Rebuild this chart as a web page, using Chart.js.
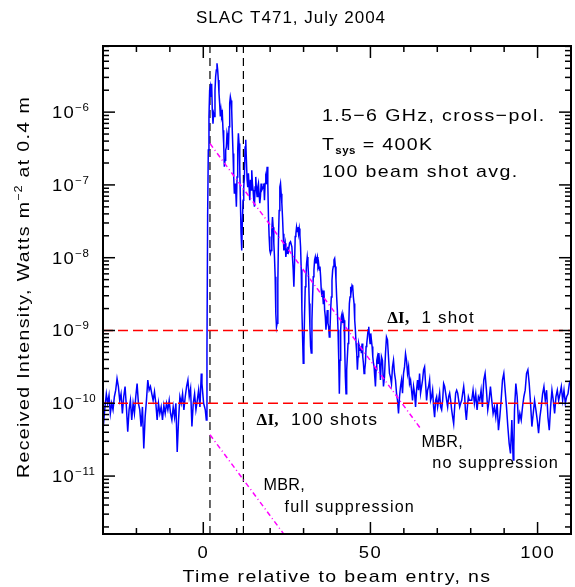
<!DOCTYPE html>
<html>
<head>
<meta charset="utf-8">
<title>SLAC T471, July 2004</title>
<script src="https://cdn.jsdelivr.net/npm/chart.js@4.4.1/dist/chart.umd.min.js"></script>
<style>
  html, body { margin: 0; padding: 0; background: #fff; }
  #wrap { width: 575px; height: 587px; }
</style>
</head>
<body>
<div id="wrap"><canvas id="chart" width="575" height="587"></canvas></div>
<script>
// time axis (ns) and log10 of received intensity
const timeNs = [
  -30.0,-29.5,-29.0,-28.6,-28.2,-27.8,-27.4,-27.0,-26.6,-26.2,
  -25.8,-25.4,-25.0,-24.6,-24.2,-23.8,-23.4,-23.0,-22.6,-22.2,
  -21.8,-21.4,-21.0,-20.6,-20.2,-19.8,-19.4,-19.0,-18.6,-18.2,
  -17.8,-17.4,-17.0,-16.6,-16.2,-15.8,-15.4,-15.0,-14.6,-14.2,
  -13.8,-13.4,-13.0,-12.6,-12.2,-11.8,-11.4,-11.0,-10.6,-10.2,
  -9.8,-9.4,-9.0,-8.6,-8.2,-7.8,-7.4,-7.0,-6.6,-6.2,
  -5.8,-5.4,-5.0,-4.6,-4.2,-3.8,-3.4,-3.0,-2.6,-2.2,
  -1.8,-1.4,-1.0,-0.6,
  -0.4,0.1,0.6,0.9,1.1,1.3,1.5,1.7,1.9,2.1,
  2.3,2.5,2.7,2.9,3.1,3.3,3.5,3.7,3.9,4.1,
  4.3,4.5,4.7,4.9,5.1,5.3,5.5,5.7,5.9,6.1,
  6.3,6.5,6.7,6.9,7.1,7.3,7.5,7.7,7.9,8.1,
  8.3,8.5,8.7,8.9,9.1,9.3,9.5,9.7,9.9,10.1,
  10.3,10.5,10.7,10.9,11.1,11.3,11.5,11.7,11.9,12.1,
  12.3,12.5,12.7,12.9,13.1,13.3,13.5,13.7,13.9,14.1,
  14.3,14.5,14.7,14.9,15.1,15.3,15.5,15.7,15.9,16.1,
  16.3,16.5,16.7,16.9,17.1,17.3,17.5,17.9,18.1,18.3,
  18.5,18.7,18.9,19.1,19.3,19.5,19.7,19.9,20.1,20.3,
  20.5,20.7,20.9,21.1,21.3,21.5,21.7,21.9,22.1,22.3,
  22.5,22.7,22.9,23.1,23.3,23.5,23.7,23.9,24.1,24.3,
  24.5,24.7,24.9,25.1,25.3,25.5,25.8,
  26.1,26.5,26.9,27.1,27.3,27.5,27.7,27.9,28.1,28.3,
  28.5,28.7,28.9,29.1,29.3,29.5,29.7,29.9,30.1,30.3,
  30.5,30.7,30.9,31.1,31.3,31.5,31.7,31.9,32.1,32.3,
  32.5,32.7,32.9,33.1,33.3,33.5,33.7,33.9,34.1,34.3,
  34.5,34.7,34.9,35.1,35.3,35.5,35.7,35.9,36.1,36.3,
  36.5,36.7,36.9,37.1,37.3,37.5,37.7,37.9,38.1,38.3,
  38.5,38.7,38.9,39.1,39.3,39.5,39.7,39.9,40.1,40.3,
  40.5,40.7,40.9,41.1,41.3,41.5,41.7,41.9,42.1,42.3,
  42.5,42.7,42.9,43.1,43.3,43.5,43.7,43.9,44.1,44.3,
  44.5,44.7,44.9,45.1,45.3,45.5,45.7,45.9,46.1,46.3,
  46.5,46.7,46.9,47.1,47.3,47.5,47.7,47.9,48.1,48.3,
  48.5,48.7,48.9,49.1,49.3,49.5,49.7,49.9,50.1,50.3,
  50.5,50.7,50.9,51.1,51.3,51.5,51.7,51.9,52.1,52.3,
  52.5,52.7,
  53.0,53.3,53.6,53.9,54.2,54.5,54.8,55.1,55.4,55.7,
  56.0,56.3,56.6,56.9,57.2,57.5,57.8,58.1,58.4,58.7,
  59.0,59.3,59.6,59.9,60.2,60.5,60.8,61.1,61.4,61.7,
  62.0,62.3,62.6,62.9,63.2,63.5,63.8,64.1,64.4,64.7,
  65.0,65.3,65.6,65.9,66.2,66.5,66.8,67.1,67.4,67.7,
  68.0,68.3,68.6,68.9,69.2,69.5,69.8,70.1,70.4,70.7,
  71.0,71.3,71.6,71.9,72.2,72.5,72.8,73.1,73.4,73.7,
  74.0,74.3,74.6,74.9,75.2,75.5,75.8,76.1,76.4,76.7,
  77.0,77.3,77.6,77.9,78.2,78.4,78.7,79.0,79.3,79.6,
  80.3,80.7,81.1,81.5,81.9,82.3,82.7,83.1,83.5,83.9,
  84.3,84.7,85.1,85.5,85.9,86.3,86.7,87.1,87.5,87.9,
  88.3,88.7,89.1,89.5,89.9,90.3,90.7,91.1,91.5,91.9,
  92.3,92.7,92.9,93.1,93.5,93.9,94.3,94.7,95.1,95.5,
  95.9,96.3,96.7,97.1,97.5,97.9,98.3,98.7,99.1,99.5,
  99.9,100.3,100.7,101.1,101.5,101.9,102.3,102.7,103.1,103.5,
  103.9,104.3,104.7,105.1,105.5,105.9,106.3,106.7,107.1,107.5,
  107.9,108.3,108.7,109.1,109.5,109.9
];
const log10Intensity = [
  -10.37,-10.09,-9.87,-10.00,-9.89,-10.14,-10.00,-10.09,-9.91,-9.82,
  -9.66,-9.77,-9.96,-9.87,-10.14,-9.91,-9.77,-10.05,-10.39,-10.09,
  -9.96,-10.23,-10.00,-10.14,-9.91,-9.73,-10.00,-10.09,-10.32,-10.05,
  -10.62,-10.19,-9.96,-9.68,-9.82,-9.77,-9.87,-9.96,-9.84,-10.00,
  -10.23,-10.00,-10.14,-10.05,-10.23,-10.03,-10.14,-10.00,-10.09,-9.96,
  -10.14,-10.23,-10.05,-10.19,-10.00,-10.67,-10.23,-9.91,-10.00,-9.87,
  -10.09,-9.91,-9.77,-9.68,-9.91,-9.80,-10.32,-10.00,-9.87,-10.09,
  -9.96,-9.82,-10.05,-9.59,
  -9.73,-10.00,-10.09,-10.23,-9.27,-7.44,-6.52,-6.06,-5.70,-5.65,
  -5.79,-5.61,-5.97,-6.16,-6.02,-6.06,-5.70,-5.51,-5.42,-5.33,
  -5.42,-5.56,-5.74,-5.88,-6.06,-5.97,-6.06,-6.02,-6.25,-6.43,
  -6.75,-6.66,-6.52,-6.48,-6.29,-6.34,-6.52,-6.20,-5.88,-5.79,
  -5.84,-5.97,-6.29,-6.57,-6.89,-7.12,-6.98,-7.07,-7.30,-6.89,
  -6.52,-6.29,-6.43,-6.75,-7.21,-7.67,-7.90,-7.48,-7.21,-7.03,
  -6.89,-6.48,-6.38,-6.66,-6.93,-7.03,-6.84,-7.03,-7.21,-6.93,
  -7.07,-6.80,-6.98,-7.07,-7.21,-7.30,-7.03,-6.89,-7.07,-7.16,
  -7.03,-6.98,-7.12,-7.25,-7.16,-6.98,-7.07,-7.03,-6.98,-7.21,
  -6.98,-6.89,-6.93,-6.75,-6.98,-7.44,-7.71,-7.90,-7.94,-7.90,
  -7.62,-7.44,-7.58,-7.80,-7.99,-8.26,-8.77,-8.95,-8.90,-8.35,
  -7.71,-7.35,-7.03,-6.98,-7.12,-7.25,-7.44,-7.67,-7.90,-7.85,
  -7.80,-7.99,-7.90,-7.94,-7.85,-7.90,-7.80,
  -7.78,-7.85,-8.17,-8.40,-8.08,-7.71,-7.67,-7.58,-7.64,-7.58,
  -7.67,-7.60,-7.69,-7.85,-8.17,-8.72,-9.09,-9.45,-9.22,-8.77,
  -8.40,-8.26,-8.08,-7.99,-8.08,-8.26,-8.63,-8.95,-9.22,-9.31,
  -8.86,-8.54,-8.26,-8.17,-8.03,-7.99,-8.08,-8.03,-7.99,-8.12,
  -8.08,-8.17,-8.12,-8.26,-8.45,-8.54,-8.49,-8.63,-8.45,-8.72,
  -8.81,-8.99,-8.86,-8.72,-8.90,-8.95,-9.09,-8.99,-8.72,-8.54,
  -8.31,-8.17,-8.12,-8.03,-8.01,-8.12,-8.31,-8.54,-8.72,-8.99,
  -9.36,-9.87,-9.41,-8.99,-8.81,-8.77,-8.90,-8.81,-8.86,-9.22,
  -9.64,-9.87,-9.54,-9.36,-9.18,-8.95,-8.63,-8.54,-8.40,-8.45,
  -8.38,-8.40,-8.54,-8.63,-8.86,-8.99,-9.18,-9.31,-9.54,-9.36,
  -9.18,-9.22,-9.27,-9.22,-9.31,-9.18,-9.36,-9.45,-9.59,-9.54,
  -9.45,-9.22,-9.18,-9.09,-8.99,-8.95,-9.09,-9.18,-9.04,-9.13,
  -9.22,-9.36,-9.45,-9.50,-9.64,-9.77,-9.54,-9.41,-9.36,-9.45,
  -9.31,-9.41,
  -9.68,-9.36,-9.41,-9.77,-9.64,-9.32,-9.09,-9.13,-9.36,-9.59,
  -9.64,-9.73,-9.50,-9.41,-9.59,-9.68,-9.86,-9.96,-10.14,-9.91,
  -9.77,-9.68,-9.86,-9.59,-9.50,-9.32,-9.41,-9.59,-9.50,-9.73,
  -9.68,-9.82,-9.96,-9.77,-9.86,-10.05,-9.82,-9.68,-9.82,-9.59,
  -9.86,-9.77,-9.68,-9.54,-9.50,-9.73,-9.96,-9.82,-9.77,-9.68,
  -9.96,-9.91,-9.82,-10.05,-10.19,-9.96,-9.91,-10.05,-9.96,-9.86,
  -10.05,-10.09,-9.96,-9.73,-9.77,-9.86,-9.96,-10.05,-9.91,-9.86,
  -9.96,-10.09,-10.19,-10.28,-10.05,-9.86,-9.82,-9.86,-9.96,-10.05,
  -10.00,-9.96,-9.86,-9.77,-9.91,-10.09,-10.23,-10.05,-9.91,-9.96,
  -9.96,-9.82,-10.00,-9.87,-10.09,-9.91,-9.96,-9.82,-10.05,-9.68,
  -9.59,-9.82,-10.09,-9.96,-9.77,-9.96,-10.14,-10.05,-10.19,-10.00,
  -10.37,-10.19,-9.96,-9.68,-9.59,-9.82,-10.05,-10.32,-10.55,-10.69,
  -10.23,-10.78,-10.60,-10.09,-9.73,-9.91,-10.28,-10.14,-10.23,-10.05,
  -9.91,-9.82,-9.59,-9.54,-9.73,-10.00,-10.32,-10.14,-9.96,-10.09,
  -10.23,-10.41,-10.19,-10.05,-9.87,-9.77,-9.96,-9.82,-10.19,-10.37,
  -10.05,-9.82,-9.96,-10.14,-9.91,-9.82,-9.96,-9.87,-9.77,-9.96,
  -9.82,-10.00,-9.91,-9.87,-9.73,-9.68
];

// noise levels (1 shot, 100 shots) and beam window markers
const noiseLevels = [1e-9, 1e-10];
const beamWindowNs = [2, 12];

// MBR expectation, no suppression and full suppression
const mbrTimeNs = [2, 65];
const mbrNoSuppression = [3.7e-7, 4.5e-11];
const mbrFullTimeNs = [2, 25];
const mbrFullSuppression = [3.7e-11, 1.4e-12];

// axes
const X_MIN = -30, X_MAX = 110;
const Y_MIN = 1.6e-12, Y_MAX = 8.1e-6;
const xTicks = [-20, -10, 0, 10, 20, 30, 40, 50, 60, 70, 80, 90, 100];
const xTickLabels = [0, 50, 100];
const yDecades = [-11, -10, -9, -8, -7, -6];

const SANS = "'Liberation Sans', Arial, sans-serif";
const SERIF = "'Liberation Serif', 'Times New Roman', serif";
const SX = 1.15;   // the original lettering is wider than Arial
const LS = 1.2;

function fontOf(p) {
  return (p.bold ? 'bold ' : '') + p.size + 'px ' + (p.serif ? SERIF : SANS);
}

function drawParts(ctx, parts, x, y, align) {
  let w = 0;
  parts.forEach(function(p) {
    ctx.font = fontOf(p);
    ctx.letterSpacing = (p.ls !== undefined ? p.ls : LS) + 'px';
    p._sx = p.sx !== undefined ? p.sx : SX;
    p._w = ctx.measureText(p.text).width * p._sx;
    w += p._w;
  });
  let cx = align === 'center' ? x - w / 2 : (align === 'right' ? x - w : x);
  ctx.textAlign = 'left';
  ctx.textBaseline = 'alphabetic';
  ctx.fillStyle = '#000';
  parts.forEach(function(p) {
    ctx.font = fontOf(p);
    ctx.letterSpacing = (p.ls !== undefined ? p.ls : LS) + 'px';
    ctx.save();
    ctx.translate(cx, y + (p.dy || 0));
    ctx.scale(p._sx, 1);
    ctx.fillText(p.text, 0, 0);
    ctx.restore();
    cx += p._w;
  });
}

// text notes placed at (time ns, log10 intensity) of their left baseline
const notes = [
  { t: 35.5, v: -6.12, parts: [{ text: '1.5−6 GHz, cross−pol.', size: 17 }] },
  { t: 35.5, v: -6.52, parts: [{ text: 'T', size: 17 }, { text: 'sys', size: 10, bold: true, dy: 4, ls: 0.4 }, { text: ' = 400K', size: 17 }] },
  { t: 35.5, v: -6.89, parts: [{ text: '100 beam shot avg.', size: 17 }] },
  { t: 55.0, v: -8.90, parts: [{ text: 'ΔI,', size: 17, bold: true, serif: true, ls: 0.3, sx: 1 }, { text: '  1 shot', size: 17, sx: 1.0 }] },
  { t: 15.9, v: -10.30, parts: [{ text: 'ΔI,', size: 17, bold: true, serif: true, ls: 0.3, sx: 1 }, { text: '  100 shots', size: 17, sx: 1.03 }] },
  { t: 65.3, v: -10.60, parts: [{ text: 'MBR,', size: 17, ls: 0.3, sx: 0.95 }] },
  { t: 68.5, v: -10.89, parts: [{ text: 'no suppression', size: 17, sx: 0.96 }] },
  { t: 18.0, v: -11.19, parts: [{ text: 'MBR,', size: 17, ls: 0.3, sx: 0.95 }] },
  { t: 24.3, v: -11.49, parts: [{ text: 'full suppression', size: 17, sx: 0.95 }] }
];

const framePlugin = {
  id: 'frame',
  afterDatasetsDraw: function(chart) {
    const ctx = chart.ctx;
    const xs = chart.scales.x, ys = chart.scales.y;
    const a = chart.chartArea;
    ctx.save();
    ctx.strokeStyle = '#000';
    ctx.lineCap = 'butt';

    function seg(x1, y1, x2, y2) {
      ctx.beginPath(); ctx.moveTo(x1, y1); ctx.lineTo(x2, y2); ctx.stroke();
    }

    // ticks pointing inwards on all four sides
    ctx.lineWidth = 1.5;
    xTicks.forEach(function(v) {
      const px = xs.getPixelForValue(v);
      const len = xTickLabels.indexOf(v) >= 0 ? 12 : 6;
      seg(px, a.bottom, px, a.bottom - len);
      seg(px, a.top, px, a.top + len);
    });
    for (let e = -12; e <= -5; e++) {
      for (let m = 1; m <= 9; m++) {
        const v = m * Math.pow(10, e);
        if (v < Y_MIN || v > Y_MAX) continue;
        const py = ys.getPixelForValue(v);
        const len = m === 1 ? 12 : 6;
        seg(a.left, py, a.left + len, py);
        seg(a.right, py, a.right - len, py);
      }
    }

    ctx.lineWidth = 2;
    ctx.strokeRect(a.left, a.top, a.right - a.left, a.bottom - a.top);

    // tick labels
    xTickLabels.forEach(function(v) {
      drawParts(ctx, [{ text: String(v), size: 16 }], xs.getPixelForValue(v), a.bottom + 24, 'center');
    });
    yDecades.forEach(function(e) {
      const py = ys.getPixelForValue(Math.pow(10, e));
      drawParts(ctx, [{ text: '10', size: 16 }, { text: '−' + (-e), size: 10, dy: -7, ls: 0.4 }], 52, py + 6, 'left');
    });

    // titles
    drawParts(ctx, [{ text: 'SLAC T471, July 2004', size: 17, sx: 1.0, ls: 1.0 }], 291, 23, 'center');
    drawParts(ctx, [{ text: 'Time relative to beam entry, ns', size: 17 }], 337, 582, 'center');
    ctx.save();
    ctx.translate(29, 287);
    ctx.rotate(-Math.PI / 2);
    drawParts(ctx, [
      { text: 'Received Intensity, Watts m', size: 17 },
      { text: '−2', size: 11, dy: -7, ls: 0.8 },
      { text: ' at 0.4 m', size: 17 }
    ], 0, 0, 'center');
    ctx.restore();

    notes.forEach(function(n) {
      drawParts(ctx, n.parts, xs.getPixelForValue(n.t), ys.getPixelForValue(Math.pow(10, n.v)), 'left');
    });
    ctx.restore();
  }
};

function pts(xsArr, ysArr) {
  return xsArr.map(function(x, i) { return { x: x, y: ysArr[i] }; });
}

const trace = timeNs.slice(0, Math.min(timeNs.length, log10Intensity.length)).map(function(t, i) {
  return { x: t, y: Math.pow(10, log10Intensity[i]) };
});

const lineBase = { pointRadius: 0, fill: false, tension: 0 };

new Chart(document.getElementById('chart').getContext('2d'), {
  type: 'line',
  data: {
    datasets: [
      Object.assign({ label: 'ΔI, 1 shot', data: pts([X_MIN, X_MAX], [noiseLevels[0], noiseLevels[0]]),
        borderColor: '#ff0000', borderWidth: 1.5, borderDash: [10, 5] }, lineBase),
      Object.assign({ label: 'ΔI, 100 shots', data: pts([X_MIN, X_MAX], [noiseLevels[1], noiseLevels[1]]),
        borderColor: '#ff0000', borderWidth: 1.5, borderDash: [10, 5] }, lineBase),
      Object.assign({ label: 'MBR, no suppression', data: pts(mbrTimeNs, mbrNoSuppression),
        borderColor: '#ff00ff', borderWidth: 1.5, borderDash: [5, 3, 1, 3] }, lineBase),
      Object.assign({ label: 'MBR, full suppression', data: pts(mbrFullTimeNs, mbrFullSuppression),
        borderColor: '#ff00ff', borderWidth: 1.5, borderDash: [5, 3, 1, 3] }, lineBase),
      Object.assign({ label: 'Received intensity', data: trace,
        borderColor: '#0000ff', borderWidth: 1.5 }, lineBase),
      Object.assign({ label: 'beam start', data: pts([beamWindowNs[0], beamWindowNs[0]], [Y_MIN, Y_MAX]),
        borderColor: '#000', borderWidth: 1.2, borderDash: [8, 5] }, lineBase),
      Object.assign({ label: 'beam end', data: pts([beamWindowNs[1], beamWindowNs[1]], [Y_MIN, Y_MAX]),
        borderColor: '#000', borderWidth: 1.2, borderDash: [8, 5] }, lineBase)
    ]
  },
  options: {
    responsive: false,
    animation: false,
    events: [],
    layout: { padding: { left: 103, right: 4, top: 46, bottom: 53 } },
    plugins: { legend: { display: false }, tooltip: { enabled: false }, title: { display: false } },
    scales: {
      x: { type: 'linear', min: X_MIN, max: X_MAX, display: false },
      y: { type: 'logarithmic', min: Y_MIN, max: Y_MAX, display: false }
    }
  },
  plugins: [framePlugin]
});
</script>
</body>
</html>
